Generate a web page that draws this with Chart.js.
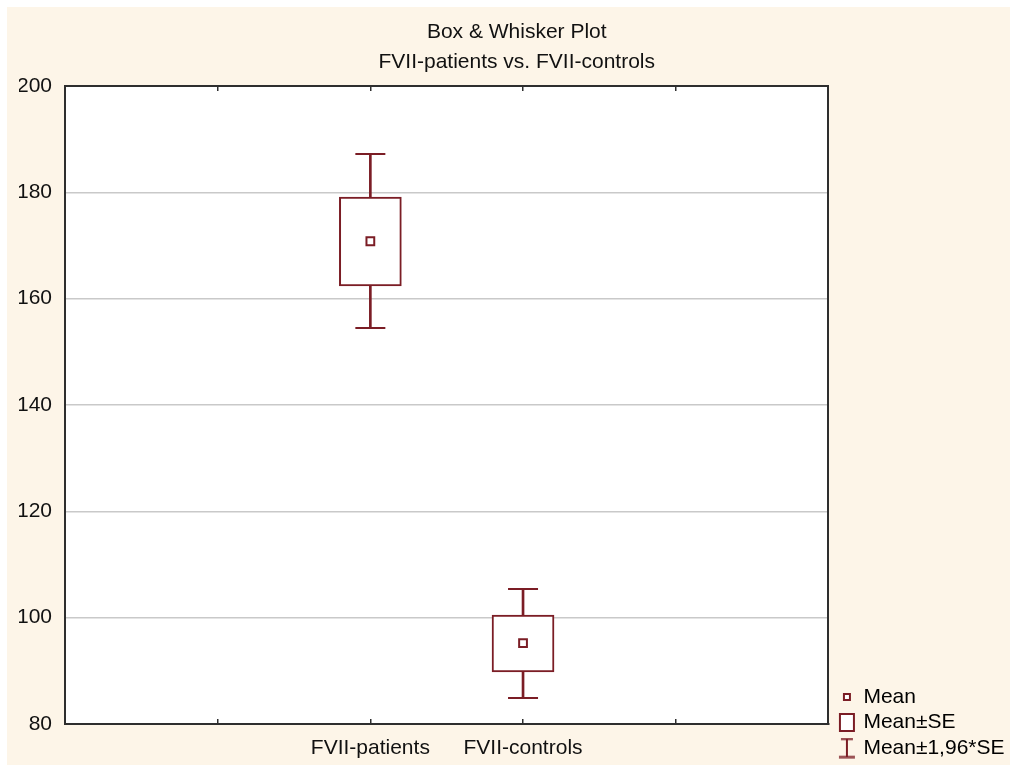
<!DOCTYPE html>
<html>
<head>
<meta charset="utf-8">
<title>Box & Whisker Plot</title>
<script src="https://cdn.jsdelivr.net/npm/chart.js@4/dist/chart.umd.min.js"></script>
<style>
  html, body { margin: 0; padding: 0; background: #ffffff; }
  canvas { display: block; }
</style>
</head>
<body>
<canvas id="boxChart" width="1010" height="767"></canvas>
<script>
// values
const categories = ['FVII-patients', 'FVII-controls']
const means = [170.8, 95.2]
const seLow = [162.4, 89.8]
const seHigh = [179.1, 100.5]
const ciLow = [154.5, 84.9]
const ciHigh = [187.2, 105.4]
const yTicks = [80, 100, 120, 140, 160, 180, 200]
const legendLabels = ['Mean', 'Mean\u00b1SE', 'Mean\u00b11,96*SE']

const darkRed = '#7b1d25'
const cream = '#fdf5e8'
const frame = '#2e2e2e'

Chart.defaults.font.family = '"Liberation Sans", Arial, sans-serif'
Chart.defaults.font.size = 21
Chart.defaults.color = '#111111'

// little canvases for the legend symbols
function makeIcon(w, h, draw) {
    const c = document.createElement('canvas')
    c.width = w
    c.height = h
    const g = c.getContext('2d')
    g.strokeStyle = darkRed
    g.fillStyle = '#ffffff'
    g.lineWidth = 2
    draw(g)
    return c
}
const iconMean = makeIcon(10, 10, g => { g.fillRect(1, 1, 8, 8); g.strokeRect(2, 2, 6, 6) })
const iconBox = makeIcon(18, 21, g => { g.fillRect(1, 1, 16, 19); g.strokeRect(2, 2, 14, 17) })
const iconWhisker = makeIcon(18, 21, g => {
    g.beginPath()
    g.moveTo(3, 1.5); g.lineTo(15, 1.5)
    g.moveTo(9, 1.5); g.lineTo(9, 19.5)
    g.moveTo(1, 19.5); g.lineTo(17, 19.5)
    g.stroke()
})
const legendIcons = [iconMean, iconBox, iconWhisker]

const backgroundPlugin = {
    id: 'background',
    beforeDraw(chart) {
        const {ctx, chartArea} = chart
        ctx.save()
        ctx.fillStyle = '#ffffff'
        ctx.fillRect(0, 0, chart.width, chart.height)
        ctx.fillStyle = cream
        ctx.fillRect(7, 7, chart.width - 7, 758)
        ctx.fillStyle = '#ffffff'
        ctx.fillRect(chartArea.left, chartArea.top, chartArea.width, chartArea.height)
        ctx.restore()
    }
}

const isEdge = v => v === -2 || v === 3

new Chart(document.getElementById('boxChart'), {
    type: 'bar',
    data: {
        datasets: [
            {
                label: 'stem',
                data: categories.map((c, i) => ({x: i, y: [ciLow[i], ciHigh[i]]})),
                backgroundColor: darkRed,
                borderWidth: 0,
                barThickness: 2,
                grouped: false,
                order: 3
            },
            {
                label: 'Mean\u00b1SE',
                data: categories.map((c, i) => ({x: i, y: [seLow[i], seHigh[i]]})),
                backgroundColor: '#ffffff',
                borderColor: darkRed,
                borderWidth: 2,
                borderSkipped: false,
                barThickness: 62,
                grouped: false,
                order: 2
            },
            {
                type: 'scatter',
                label: 'caps',
                data: categories.flatMap((c, i) => [{x: i, y: ciHigh[i]}, {x: i, y: ciLow[i]}]),
                pointStyle: 'line',
                pointRadius: 15,
                pointBorderWidth: 2,
                pointBorderColor: darkRed,
                order: 1
            },
            {
                type: 'scatter',
                label: 'Mean',
                data: categories.map((c, i) => ({x: i, y: means[i]})),
                pointStyle: 'rect',
                pointRadius: 5.5,
                pointBorderWidth: 2,
                pointBorderColor: darkRed,
                pointBackgroundColor: '#ffffff',
                order: 0
            }
        ]
    },
    options: {
        responsive: false,
        animation: false,
        events: [],
        layout: {padding: {left: 19, right: -4.5, top: 7, bottom: 4}},
        plugins: {
            title: {
                display: true,
                text: ['Box & Whisker Plot', 'FVII-patients vs. FVII-controls'],
                font: {size: 21, weight: 'normal', lineHeight: 30 / 21},
                color: '#111111',
                padding: {top: 10, bottom: 9}
            },
            legend: {
                position: 'right',
                align: 'end',
                maxWidth: 400,
                onClick: null,
                labels: {
                    usePointStyle: true,
                    pointStyleWidth: 12,
                    padding: 4.5,
                    color: '#111111',
                    font: {size: 21},
                    generateLabels: () => legendLabels.map((t, i) => ({
                        text: t,
                        pointStyle: legendIcons[i],
                        fillStyle: '#ffffff',
                        strokeStyle: darkRed,
                        lineWidth: 0,
                        hidden: false,
                        datasetIndex: i
                    }))
                }
            },
            tooltip: {enabled: false}
        },
        scales: {
            x: {
                type: 'linear',
                position: 'bottom',
                min: -2,
                max: 3,
                offset: false,
                afterFit: scale => { scale.height = 39 },
                ticks: {
                    stepSize: 1,
                    padding: 12,
                    maxRotation: 0,
                    autoSkip: false,
                    color: '#111111',
                    callback: v => categories[v] || ''
                },
                grid: {
                    offset: false,
                    drawTicks: false,
                    lineWidth: 1.5,
                    color: c => (c.tick && isEdge(c.tick.value)) ? 'rgba(0,0,0,0)' : frame
                },
                border: {
                    color: frame,
                    width: 2,
                    dash: c => {
                        const h = c.chart.chartArea ? c.chart.chartArea.height : 638
                        return [5, h - 10]
                    }
                }
            },
            x2: {
                type: 'linear',
                position: 'top',
                min: -2,
                max: 3,
                ticks: {display: false},
                grid: {display: false, drawTicks: false},
                border: {color: frame, width: 2}
            },
            y: {
                type: 'linear',
                min: 80,
                max: 200,
                afterBuildTicks: scale => { scale.ticks = yTicks.map(v => ({value: v})) },
                afterFit: scale => { scale.width = 46 },
                ticks: {padding: 13, color: '#111111'},
                grid: {
                    drawTicks: false,
                    color: '#c9c9c9',
                    lineWidth: 1.5
                },
                border: {color: frame, width: 2}
            },
            y2: {
                type: 'linear',
                position: 'right',
                min: 80,
                max: 200,
                ticks: {display: false},
                grid: {display: false, drawTicks: false},
                border: {color: frame, width: 2},
                afterFit: scale => { scale.width = 8 }
            }
        }
    },
    plugins: [backgroundPlugin]
})
</script>
</body>
</html>
